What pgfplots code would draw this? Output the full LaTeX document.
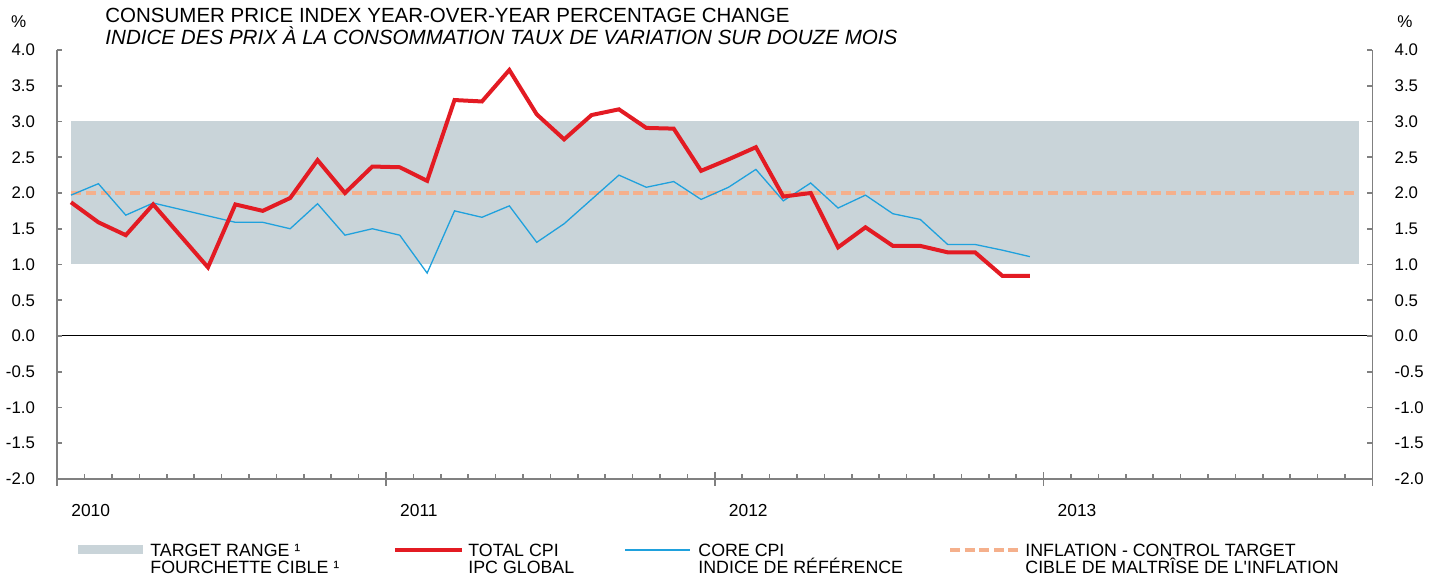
\documentclass[border=0pt]{standalone}
\usepackage{fontspec}
\setmainfont{Liberation Sans}[Ligatures=TeXOff]
\usepackage{pgfplots}
\pgfplotsset{compat=1.18}
\definecolor{band}{HTML}{C9D4D9}
\definecolor{cpired}{HTML}{E31B23}
\definecolor{coreblue}{HTML}{1FA1DD}
\definecolor{target}{HTML}{F5B08C}
\definecolor{axgray}{HTML}{808080}

\pgfplotstableread{
x y
0.5 1.87
1.5 1.59
2.5 1.41
3.5 1.84
4.5 1.40
5.5 0.96
6.5 1.84
7.5 1.75
8.5 1.93
9.5 2.46
10.5 2.00
11.5 2.37
12.5 2.36
13.5 2.17
14.5 3.30
15.5 3.28
16.5 3.72
17.5 3.10
18.5 2.75
19.5 3.09
20.5 3.17
21.5 2.91
22.5 2.90
23.5 2.31
24.5 2.47
25.5 2.64
26.5 1.95
27.5 2.00
28.5 1.24
29.5 1.52
30.5 1.26
31.5 1.26
32.5 1.17
33.5 1.17
34.5 0.84
35.5 0.84
}\totalcpi

\pgfplotstableread{
x y
0.5 1.97
1.5 2.13
2.5 1.69
3.5 1.86
4.5 1.77
5.5 1.68
6.5 1.59
7.5 1.59
8.5 1.50
9.5 1.85
10.5 1.41
11.5 1.50
12.5 1.41
13.5 0.88
14.5 1.75
15.5 1.66
16.5 1.82
17.5 1.31
18.5 1.57
19.5 1.91
20.5 2.25
21.5 2.08
22.5 2.16
23.5 1.91
24.5 2.08
25.5 2.33
26.5 1.89
27.5 2.14
28.5 1.79
29.5 1.97
30.5 1.71
31.5 1.63
32.5 1.28
33.5 1.28
34.5 1.20
35.5 1.11
}\corecpi

\pgfplotsset{
  common/.style={
    at={(0,0)}, anchor=south west,
    scale only axis, width=657.5pt, height=214.5pt,
    xmin=0, xmax=48, ymin=-2, ymax=4,
    axis line style={axgray, line width=0.8pt},
    tick style={axgray, line width=0.8pt},
    tick align=inside,
  },
  yside/.style={
    axis x line=none,
    major tick length=2.5pt,
    ytick={-2,-1.5,-1,-0.5,0,0.5,1,1.5,2,2.5,3,3.5,4},
    yticklabels={-2.0,-1.5,-1.0,-0.5,0.0,0.5,1.0,1.5,2.0,2.5,3.0,3.5,4.0},
    yticklabel style={font=\fontsize{8.4}{10}\selectfont, inner sep=0pt},
  }
}

\begin{document}
\begin{tikzpicture}
\useasboundingbox (-28.65pt,-51.5pt) rectangle (690.35pt,239.5pt);

% main axis: data and x axis
\begin{axis}[common,
  axis x line*=bottom, axis y line=none,
  xtick={0,12,24,36,48}, xticklabels={},
  minor xtick={1,...,47},
  major tick length=7pt, minor tick length=2.5pt,
  major x tick style={yshift=-3.5pt},
]
\addplot [draw=none, fill=band] coordinates {(0.5,1) (47.5,1) (47.5,3) (0.5,3)} -- cycle;
\draw [black, line width=0.5pt] (axis cs:0,0) -- (axis cs:48,0);
\addplot [target, line width=2pt, dash pattern=on 5pt off 2.4pt] coordinates {(0.5,2) (47.5,2)};
\addplot [coreblue, line width=0.65pt] table [x=x, y=y] {\corecpi};
\addplot [cpired, line width=2pt] table [x=x, y=y] {\totalcpi};
\end{axis}

% left y axis
\begin{axis}[common, yside, axis y line*=left,
  yticklabel style={anchor=east, xshift=-11pt}]
\end{axis}

% right y axis
\begin{axis}[common, yside, axis y line*=right,
  yticklabel style={anchor=west, xshift=11pt}]
\end{axis}

% title
\node[anchor=base west, inner sep=0pt, font=\fontsize{10.25}{12}\selectfont]
  at (23.85pt,228.15pt) {CONSUMER PRICE INDEX YEAR-OVER-YEAR PERCENTAGE CHANGE};
\node[anchor=base west, inner sep=0pt, font=\fontsize{10.3}{12}\selectfont\itshape]
  at (23.85pt,217pt) {INDICE DES PRIX À LA CONSOMMATION TAUX DE VARIATION SUR DOUZE MOIS};

% percent signs
\node[anchor=base, inner sep=0pt, font=\fontsize{8.5}{10}\selectfont] at (-19.3pt,225.65pt) {\%};
\node[anchor=base, inner sep=0pt, font=\fontsize{8.5}{10}\selectfont] at (673.85pt,225.65pt) {\%};

% year labels
\foreach \k/\yr in {0/2010,1/2011,2/2012,3/2013}{
  \node[anchor=base west, inner sep=0pt, font=\fontsize{8.7}{10}\selectfont]
    at ({(12*\k+0.5)*13.6979pt},-18.85pt) {\yr};
}

% legend
\fill[band] (10.35pt,-37.75pt) rectangle (42.85pt,-33.25pt);
\draw[cpired, line width=2pt] (168.85pt,-35.5pt) -- (202.35pt,-35.5pt);
\draw[coreblue, line width=0.65pt] (283.85pt,-35.5pt) -- (316.35pt,-35.5pt);
\draw[target, line width=2pt, dash pattern=on 5pt off 2.3pt] (446.35pt,-35.5pt) -- (480.35pt,-35.5pt);

\begin{scope}[every node/.style={anchor=base west, inner sep=0pt, font=\fontsize{8.9}{10}\selectfont}]
\node at (46.35pt,-38.85pt) {TARGET RANGE ¹};
\node at (46.35pt,-47.5pt) {FOURCHETTE CIBLE ¹};
\node at (205.35pt,-38.85pt) {TOTAL CPI};
\node at (205.35pt,-47.5pt) {IPC GLOBAL};
\node at (320.35pt,-38.85pt) {CORE CPI};
\node at (320.35pt,-47.5pt) {INDICE DE RÉFÉRENCE};
\node at (483.85pt,-38.85pt) {INFLATION - CONTROL TARGET};
\node at (483.85pt,-47.5pt) {CIBLE DE MALTRÎSE DE L'INFLATION};
\end{scope}
\end{tikzpicture}
\end{document}
